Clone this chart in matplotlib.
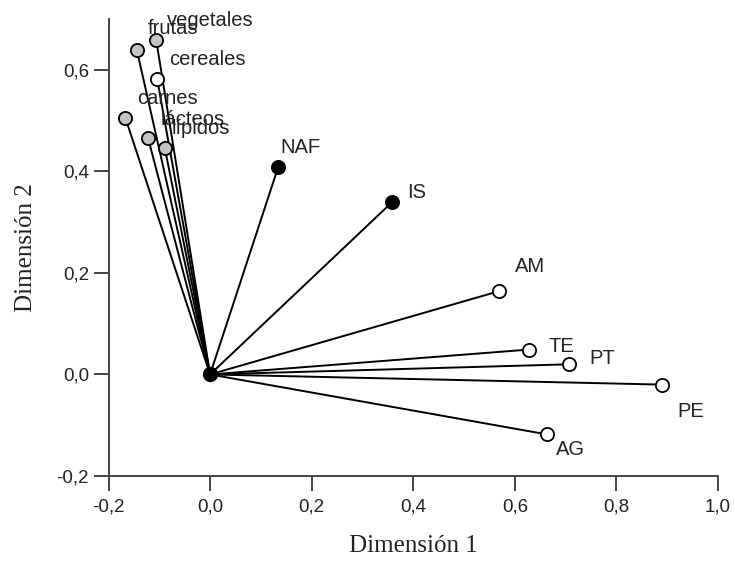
import matplotlib
matplotlib.use("Agg")
import matplotlib.pyplot as plt
from matplotlib.ticker import FixedLocator, FixedFormatter

# ---- data ----
names = ["vegetales", "frutas", "cereales", "carnes", "lácteos", "lípidos",
         "NAF", "IS", "AM", "TE", "PT", "PE", "AG"]
dim1 = [-0.106, -0.144, -0.104, -0.167, -0.122, -0.089,
        0.134, 0.358, 0.569, 0.628, 0.707, 0.890, 0.663]
dim2 = [0.658, 0.638, 0.581, 0.506, 0.465, 0.445,
        0.408, 0.339, 0.164, 0.049, 0.020, -0.020, -0.118]
kind = ["gray", "gray", "open", "gray", "gray", "gray",
        "black", "black", "open", "open", "open", "open", "open"]

xticks = [-0.2, 0.0, 0.2, 0.4, 0.6, 0.8, 1.0]
xticklabels = ["-0,2", "0,0", "0,2", "0,4", "0,6", "0,8", "1,0"]
yticks = [-0.2, 0.0, 0.2, 0.4, 0.6]
yticklabels = ["-0,2", "0,0", "0,2", "0,4", "0,6"]

# label offsets in pixels (style only)
offsets = {"vegetales": (11, 20), "frutas": (11, 22), "cereales": (12, 20),
           "carnes": (12, 19), "lácteos": (13, 19), "lípidos": (7, 20),
           "NAF": (2, 20), "IS": (15, 10), "AM": (16, 25), "TE": (19, 3),
           "PT": (20, 6), "PE": (15, -27), "AG": (9, -15)}

face = {"gray": "#c4c4c4", "open": "white", "black": "black"}

fig = plt.figure(figsize=(7.35, 5.61), dpi=100)
ax = fig.add_axes([108.5 / 735, 1 - 476 / 561, (718 - 108.5) / 735, (476 - 19) / 561])
ax.set_xlim(-0.2, 1.0)
ax.set_ylim(-0.2, 0.70)

for n, x, y, k in zip(names, dim1, dim2, kind):
    ax.plot([0, x], [0, y], color="black", lw=1.4, zorder=2, solid_capstyle="round")
    ax.plot([x], [y], marker="o", ms=9.5, mfc=face[k], mec="black", mew=1.3,
            zorder=3, clip_on=False)
    dx, dy = offsets[n]
    ax.annotate(n, (x, y), xytext=(dx, dy), textcoords="offset pixels",
                ha="left", va="center", fontsize=14.5, color="#222222",
                family="Liberation Sans", zorder=4)

ax.plot([0], [0], marker="o", ms=10, color="black", zorder=5)

for s in ["top", "right"]:
    ax.spines[s].set_visible(False)
for s in ["left", "bottom"]:
    ax.spines[s].set_color("#444444")
    ax.spines[s].set_linewidth(1.4)

ax.xaxis.set_major_locator(FixedLocator(xticks))
ax.xaxis.set_major_formatter(FixedFormatter(xticklabels))
ax.yaxis.set_major_locator(FixedLocator(yticks))
ax.yaxis.set_major_formatter(FixedFormatter(yticklabels))
ax.tick_params(direction="out", length=10.5, width=1.4, color="#444444",
               labelsize=13.5, labelcolor="#222222")
ax.tick_params(axis="y", pad=3.5)
ax.tick_params(axis="x", pad=6)
for lab in ax.get_xticklabels() + ax.get_yticklabels():
    lab.set_family("Liberation Sans")

ax.set_xlabel("Dimensión 1", family="Liberation Serif", fontsize=18, color="#222222", labelpad=14)
ax.set_ylabel("Dimensión 2", family="Liberation Serif", fontsize=18, color="#222222", labelpad=14)

fig.savefig("out.png", dpi=100)
